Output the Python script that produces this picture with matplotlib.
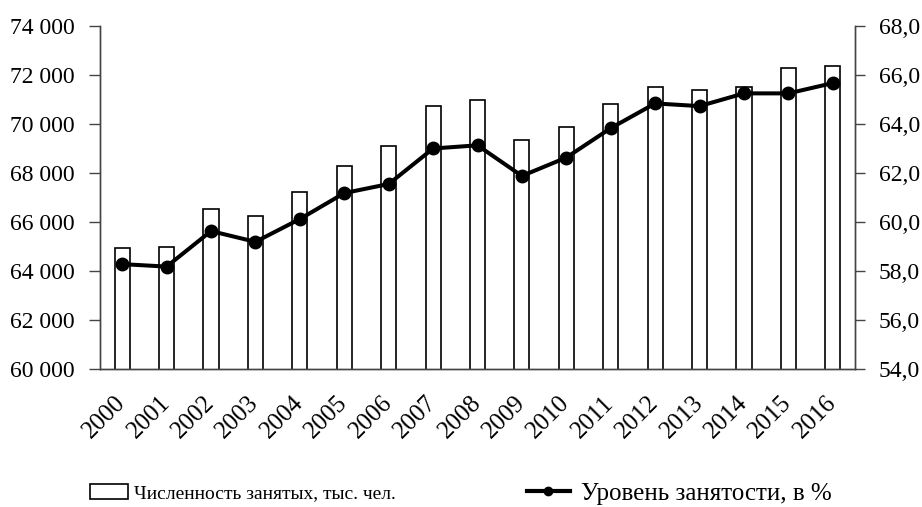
import matplotlib
matplotlib.use("Agg")
import matplotlib.pyplot as plt
from matplotlib.ticker import FuncFormatter
from matplotlib.lines import Line2D
from matplotlib.patches import Patch

years = [str(y) for y in range(2000, 2017)]
employed = [64950, 64990, 66550, 66250, 67240, 68290, 69100, 70740, 70970,
            69350, 69880, 70830, 71490, 71370, 71530, 72300, 72380]
rate = [58.28, 58.18, 59.63, 59.19, 60.12, 61.18, 61.55, 63.0, 63.13,
        61.88, 62.63, 63.83, 64.84, 64.73, 65.25, 65.25, 65.67]

bar_label = "Численность занятых, тыс. чел."
line_label = "Уровень занятости, в %"

plt.rcParams["font.family"] = ["Liberation Serif", "DejaVu Serif"]

fig = plt.figure(figsize=(9.22, 5.07), dpi=100)
ax = fig.add_axes([100 / 922, 1 - 369 / 507, 755 / 922, 343 / 507])
ax2 = ax.twinx()

x = range(len(years))
ax.bar(x, employed, width=0.34, color="white", edgecolor="black", linewidth=1.2, zorder=2)
ax2.plot(x, rate, color="black", linewidth=2.9, marker="o", markersize=9, zorder=3)

ax.set_xlim(-0.5, len(years) - 0.5)
ax.set_ylim(60000, 74000)
ax.set_yticks(range(60000, 74001, 2000))
ax.yaxis.set_major_formatter(FuncFormatter(lambda v, p: f"{int(v):,}".replace(",", " ")))
ax2.set_ylim(54, 68)
ax2.set_yticks(range(54, 69, 2))
ax2.yaxis.set_major_formatter(FuncFormatter(lambda v, p: f"{v:.1f}".replace(".", ",")))

ax.set_xticks(list(x))
ax.set_xticklabels(years, rotation=45, ha="right", va="center",
                   rotation_mode="anchor", fontsize=18)
ax.tick_params(axis="x", length=0, pad=22)
ax.tick_params(axis="y", labelsize=17, length=8, width=1, color="#444444", pad=10)
ax2.tick_params(axis="y", labelsize=17, length=7, width=1, color="#444444", pad=10)

for a in (ax, ax2):
    a.spines["top"].set_visible(False)
    for s in ("left", "right", "bottom"):
        a.spines[s].set_color("#444444")
        a.spines[s].set_linewidth(1)
ax.set_zorder(ax2.get_zorder() - 1)
ax2.patch.set_visible(False)

bar_handle = Patch(facecolor="white", edgecolor="black", linewidth=1.2)
line_handle = Line2D([0], [0], color="black", linewidth=3, marker="o", markersize=6)
fig.legend([bar_handle], [bar_label], loc="center left", bbox_to_anchor=(90 / 922, 0.027),
           frameon=False, fontsize=14, borderpad=0, borderaxespad=0, handlelength=1.95,
           handleheight=0.8, handletextpad=0.3)
fig.legend([line_handle], [line_label], loc="center left", bbox_to_anchor=(527 / 922, 0.027),
           frameon=False, fontsize=18, borderpad=0, borderaxespad=0, handlelength=1.7,
           handletextpad=0.45)

fig.savefig("out.png", dpi=100)
